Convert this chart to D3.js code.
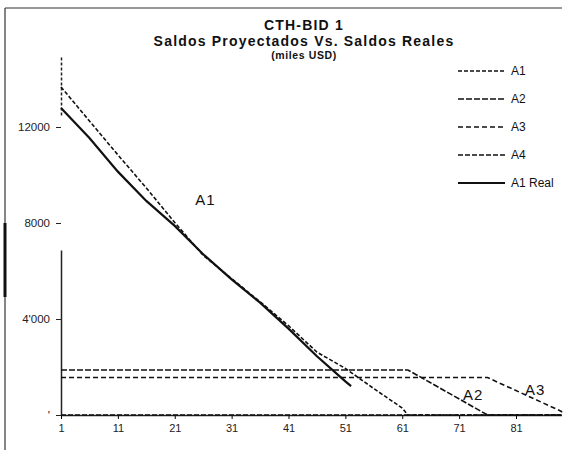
<!DOCTYPE html>
<html>
<head>
<meta charset="utf-8">
<script src="https://cdn.jsdelivr.net/npm/d3@7"></script>
<style>
  body { margin: 0; background: #fff; }
  text { font-family: "Liberation Sans", Arial, sans-serif; }
</style>
</head>
<body>
<svg id="chart" width="571" height="450"></svg>
<script>
// values (miles USD per period)
const a1Periods = [1, 6, 11, 16, 21, 26, 31, 36, 41, 46, 51, 56, 61, 62, 89];
const a1Values  = [13670, 12250, 10840, 9460, 8020, 6650, 5680, 4720, 3720, 2620, 1940, 1100, 290, 0, 0];

const a2Periods = [1, 62, 76, 89];
const a2Values  = [1875, 1875, 0, 0];

const a3Periods = [1, 76, 89, 89];
const a3Values  = [1560, 1560, 150, 0];

const a4Periods = [1, 89];
const a4Values  = [0, 0];

const realPeriods = [1, 6, 11, 16, 21, 26, 31, 36, 41, 46, 51, 52];
const realValues  = [12790, 11540, 10140, 8920, 7880, 6700, 5650, 4680, 3600, 2450, 1400, 1200];

const xTicks = [1, 11, 21, 31, 41, 51, 61, 71, 81];
const yTicks = [0, 4000, 8000, 12000];
const yTickLabels = ["'", "4'000", "8000", "12000"];

const legendNames = ["A1", "A2", "A3", "A4", "A1 Real"];

// in-plot labels (period, value)
const noteNames   = ["A1", "A2", "A3"];
const notePeriods = [24.6, 71.7, 82.6];
const noteValues  = [8750, 620, 830];

const titleLines = ["CTH-BID 1", "Saldos Proyectados Vs. Saldos Reales", "(miles USD)"];

const svg = d3.select("#chart");

// frame (only top and left edges survive on the scan)
svg.append("line").attr("x1", 5).attr("y1", 8).attr("x2", 562).attr("y2", 8)
  .attr("stroke", "#333").attr("stroke-width", 1.2);
svg.append("line").attr("x1", 5).attr("y1", 8).attr("x2", 5).attr("y2", 450)
  .attr("stroke", "#333").attr("stroke-width", 1.2);
svg.append("rect").attr("x", 3.5).attr("y", 223).attr("width", 3).attr("height", 74)
  .attr("fill", "#111");

const x = d3.scaleLinear().domain([1, 89]).range([61, 561.5]);
const y = d3.scaleLinear().domain([0, 15000]).range([415, 55]);

// title
svg.append("g").selectAll("text")
  .data(titleLines)
  .enter().append("text")
  .attr("x", 304)
  .attr("y", (d, i) => [29.5, 46, 59][i])
  .attr("text-anchor", "middle")
  .attr("font-weight", "bold")
  .attr("font-size", (d, i) => i === 2 ? 10.5 : 14)
  .attr("letter-spacing", (d, i) => i === 2 ? 0.6 : 1.2)
  .attr("fill", "#111")
  .text(d => d);

// axes
const xAxis = svg.append("g")
  .attr("transform", `translate(0,${y(0)})`)
  .call(d3.axisBottom(x).tickValues(xTicks).tickSize(4).tickSizeOuter(0).tickPadding(5));
xAxis.select(".domain").attr("stroke", "#222").attr("stroke-width", 1.5);
xAxis.selectAll("text").attr("font-size", 11).attr("fill", "#222");

const yAxis = svg.append("g")
  .attr("transform", `translate(${x(1)},0)`)
  .call(d3.axisLeft(y).tickValues(yTicks).tickFormat((d, i) => yTickLabels[i])
    .tickSize(5).tickSizeOuter(0).tickPadding(6));
// the scan lost the middle of the axis line; dashes at its top
yAxis.select(".domain").attr("stroke", "#222").attr("stroke-width", 1.5)
  .attr("stroke-dasharray", "165 135 3 2 3 2 3 2 3 2 3 2 3 2 3 2 3 2 3 2 3 2 3 2 3 2");
yAxis.selectAll("text").attr("font-size", 11.5).attr("fill", "#222");
yAxis.selectAll(".tick line").attr("stroke", "#222");

// series
const series = [
  { name: "A1",      periods: a1Periods,   values: a1Values,   dash: "4,2", width: 1.6 },
  { name: "A2",      periods: a2Periods,   values: a2Values,   dash: "6,2", width: 1.6 },
  { name: "A3",      periods: a3Periods,   values: a3Values,   dash: "5,3", width: 1.6 },
  { name: "A4",      periods: a4Periods,   values: a4Values,   dash: "5,2", width: 1.6 },
  { name: "A1 Real", periods: realPeriods, values: realValues, dash: null,  width: 2.2 }
];

const line = d3.line()
  .x(d => x(d[0]))
  .y(d => y(d[1]));

svg.append("g").selectAll("path")
  .data(series)
  .enter().append("path")
  .attr("fill", "none")
  .attr("stroke", "#111")
  .attr("stroke-width", d => d.width)
  .attr("stroke-dasharray", d => d.dash)
  .attr("d", d => line(d.periods.map((p, i) => [p, d.values[i]])));

// in-plot labels
svg.append("g").selectAll("text")
  .data(noteNames)
  .enter().append("text")
  .attr("x", (d, i) => x(notePeriods[i]))
  .attr("y", (d, i) => y(noteValues[i]))
  .attr("font-family", "'Liberation Serif', 'Times New Roman', serif")
  .attr("font-size", 15)
  .attr("letter-spacing", 1)
  .attr("fill", "#111")
  .text(d => d);

// legend
const legend = svg.append("g").selectAll("g")
  .data(series)
  .enter().append("g")
  .attr("transform", (d, i) => `translate(458,${71 + i * 28})`);

legend.append("line")
  .attr("x1", 0).attr("x2", 47)
  .attr("stroke", "#111")
  .attr("stroke-width", d => d.width)
  .attr("stroke-dasharray", d => d.dash);

legend.append("text")
  .attr("x", 53)
  .attr("dy", "0.35em")
  .attr("font-size", 12)
  .attr("fill", "#111")
  .text((d, i) => legendNames[i]);
</script>
</body>
</html>
